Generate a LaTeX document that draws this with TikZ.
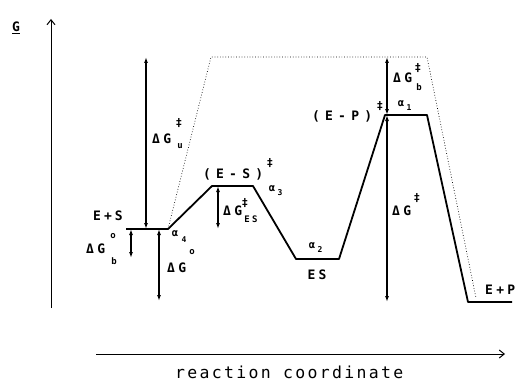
\documentclass[tikz,border=0pt]{standalone}
\usepackage{fontspec}
\usetikzlibrary{arrows.meta}
\newfontfamily\lf{DejaVu Sans Mono}[LetterSpace=25]
\newfontfamily\lfw{DejaVu Sans Mono}[LetterSpace=40]
\newfontfamily\rcf{DejaVu Sans Mono}[LetterSpace=14]
\begin{document}
\begin{tikzpicture}[x=1pt,y=-1pt,
  lab/.style={font=\lf\bfseries\fontsize{13}{13}\selectfont, inner sep=0pt, anchor=base west},
  labw/.style={font=\lfw\bfseries\fontsize{13}{13}\selectfont, inner sep=0pt, anchor=base west},
  sm/.style={font=\lf\bfseries\fontsize{9}{9}\selectfont, inner sep=0pt},
  alf/.style={font=\lf\bfseries\fontsize{10.5}{10.5}\selectfont, inner sep=0pt},
  dig/.style={font=\lf\bfseries\fontsize{8}{8}\selectfont, inner sep=0pt},
  dg/.style={font=\lf\bfseries\fontsize{11}{11}\selectfont, inner sep=0pt},
  prof/.style={line width=1.8pt, line join=round},
  dots/.style={dotted, line width=0.7pt},
  dim/.style={line width=1.2pt, {Latex[length=6pt,width=4pt]}-{Latex[length=6pt,width=4pt]}},
  axis/.style={line width=1pt, -{Straight Barb[length=5pt,width=8pt]}}]
\useasboundingbox (0,0) rectangle (518,385);
% axes
\coordinate (yax0) at (51,308); \coordinate (yax1) at (51,19);
\coordinate (xax0) at (96,354); \coordinate (xax1) at (505,354);
\draw[axis] (yax0) -- (yax1);
\draw[axis] (xax0) -- (xax1);
\node[lab] (tG) at (12,32) {\underline{G}};
\node[font=\rcf\fontsize{16.5}{16.5}\selectfont, inner sep=0pt, anchor=base west] (trc) at (175,378) {reaction coordinate};
% profile
\coordinate (es1) at (126,229); \coordinate (es2) at (168,229);
\coordinate (ta1) at (212,186); \coordinate (ta2) at (253,186);
\coordinate (esa) at (296,259); \coordinate (esb) at (339,259);
\coordinate (tb1) at (385,115); \coordinate (tb2) at (427,115);
\coordinate (epa) at (468,302); \coordinate (epb) at (512,302);
\draw[prof] (es1) -- (es2) -- (ta1) -- (ta2) -- (esa) -- (esb) -- (tb1) -- (tb2) -- (epa) -- (epb);
% uncatalysed (dotted)
\coordinate (u1) at (211,57); \coordinate (u2) at (427,57); \coordinate (u3) at (476,298);
\draw[dots] (es2) -- (u1) -- (u2) -- (u3);
% dimension arrows
\coordinate (gu1) at (146,57); \coordinate (gu2) at (146,229);
\coordinate (gbo1) at (131,229); \coordinate (gbo2) at (131,258);
\coordinate (go1) at (159,229); \coordinate (go2) at (159,301);
\coordinate (ges1) at (218,186); \coordinate (ges2) at (218,229);
\coordinate (gbt1) at (387,57); \coordinate (gbt2) at (387,115);
\coordinate (gt1) at (387,115); \coordinate (gt2) at (387,302);
\draw[dim] (gu1) -- (gu2);
\draw[dim] (gbo1) -- (gbo2);
\draw[dim] (go1) -- (go2);
\draw[dim] (ges1) -- (ges2);
\draw[dim] (gbt1) -- (gbt2);
\draw[dim] (gt1) -- (gt2);
% labels
\node[lab] (tES) at (93,220) {E\hspace{3pt}+\hspace{3pt}S};
\node[lab] (tGbo) at (86,253) {ΔG};
\node[sm] (tGbo1) at (113,236) {o};
\node[sm] (tGbo2) at (114,261) {b};
\node[lab] (tGo) at (167,272) {ΔG};
\node[sm] (tGo1) at (192,252) {o};
\node[alf] (ta4) at (175,234) {α};
\node[dig] (ta4s) at (184,240) {4};
\node[lab] (tGu) at (152,143) {ΔG};
\node[dg] (tGu1) at (179,123) {‡};
\node[sm] (tGu2) at (180,146) {u};
\node[labw] (tTS1) at (203,178) {(E-S)};
\node[dg] (tTS1s) at (270,163) {‡};
\node[alf] (ta3) at (272,189) {α};
\node[dig] (ta3s) at (280,193) {3};
\node[lab] (tGes) at (223,215) {ΔG};
\node[dg] (tGes1) at (245,203) {‡};
\node[sm] (tGes2) at (251,219) {ES};
\node[alf] (ta2) at (312,246) {α};
\node[dig] (ta2s) at (320,250) {2};
\node[lab, anchor=center] (tESc) at (317,275) {ES};
\node[labw] (tTS2) at (312,120) {(E-P)};
\node[dg] (tTS2s) at (380,106) {‡};
\node[alf] (ta1) at (401,104) {α};
\node[dig] (ta1s) at (409,108) {1};
\node[lab] (tGbt) at (393,82) {ΔG};
\node[dg] (tGbt1) at (418,68) {‡};
\node[sm] (tGbt2) at (419,87) {b};
\node[lab] (tGt) at (392,215) {ΔG};
\node[dg] (tGt1) at (417,198) {‡};
\node[lab] (tEP) at (485,294) {E+P};
\end{tikzpicture}
\end{document}
